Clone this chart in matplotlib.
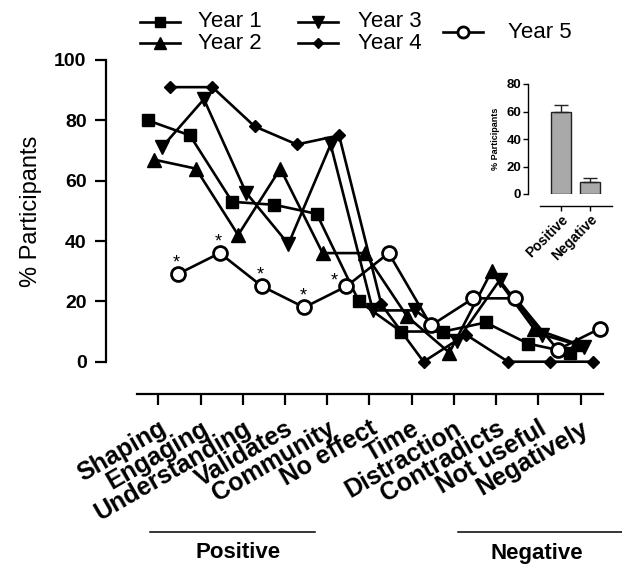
import matplotlib
matplotlib.use("Agg")
import matplotlib.pyplot as plt
from matplotlib.lines import Line2D
import numpy as np

plt.rcParams['font.family'] = ['Liberation Sans', 'DejaVu Sans']

# ---------------- data ----------------
categories = ["Shaping", "Engaging", "Understanding", "Validates", "Community",
              "No effect", "Time", "Distraction", "Contradicts", "Not useful", "Negatively"]
year1 = [80, 75, 53, 52, 49, 20, 10, 10, 13, 6, 3]
year2 = [67, 64, 42, 64, 36, 36, 15, 3, 30, 11, 6]
year3 = [71, 87, 56, 39, 72, 17, 17, 7, 27, 9, 5]
year4 = [91, 91, 78, 72, 75, 19, 0, 9, 0, 0, 0]
year5 = [29, 36, 25, 18, 25, 36, 12, 21, 21, 4, 11]
series_names = ["Year 1", "Year 2", "Year 3", "Year 4", "Year 5"]
starred = ["Shaping", "Engaging", "Understanding", "Validates", "Community"]

yticks = [0, 20, 40, 60, 80, 100]

inset_groups = ["Positive", "Negative"]
inset_means = [60, 9]
inset_err = [5, 2.5]
inset_yticks = [0, 20, 40, 60, 80]

# ---------------- styles ----------------
W, H = 622, 569
fig = plt.figure(figsize=(W / 100, H / 100), dpi=100)
fig.patch.set_facecolor("white")

def fx(x):
    return x / W

def fy(y):
    return 1 - y / H

styles = [
    dict(marker="s", ms=9, mfc="black", mec="black"),
    dict(marker="^", ms=10, mfc="black", mec="black"),
    dict(marker="v", ms=10, mfc="black", mec="black"),
    dict(marker="D", ms=6, mfc="black", mec="black"),
    dict(marker="o", ms=10, mfc="white", mec="black", mew=2),
]
offsets = [-0.25, -0.11, 0.08, 0.28, 0.455]

ax = fig.add_axes([fx(106), fy(361.7), fx(603.3) - fx(106), fy(60) - fy(361.7)])
for s in ["top", "right"]:
    ax.spines[s].set_visible(False)
ax.spines["bottom"].set_position(("outward", 23.3))
ax.spines["left"].set_linewidth(1.6)
ax.spines["bottom"].set_linewidth(1.6)
ax.tick_params(axis="both", width=1.6, length=8, color="black")
ax.tick_params(axis="x", pad=8)
ax.tick_params(axis="y", pad=6)

x = np.arange(len(categories))
all_series = [year1, year2, year3, year4, year5]
for i, (vals, st, off) in enumerate(zip(all_series, styles, offsets)):
    ax.plot(x + off, vals, color="black", lw=1.9, clip_on=False, zorder=3 + i, **st)

# asterisks above Year 5
for cat in starred:
    i = categories.index(cat)
    dx, dy = (-1, 2) if cat != "Community" else (-9, -2)
    ax.annotate("*", (i + offsets[4], year5[i]), xytext=(dx, dy), textcoords="offset points",
                ha="center", va="bottom", fontsize=13, zorder=10)

ax.set_ylim(0, 100)
ax.set_xlim(-1.238, 10.535)
ax.spines["left"].set_bounds(0, 100)
ax.spines["bottom"].set_bounds(-0.511, 10.535)
ax.set_yticks(yticks)
ax.set_yticklabels([str(v) for v in yticks])
ax.set_xticks(x)
ax.set_xticklabels(categories)
plt.setp(ax.get_yticklabels(), fontsize=14, fontweight="bold")
plt.setp(ax.get_xticklabels(), fontsize=18, fontweight="bold", rotation=30,
         ha="right", va="top", rotation_mode="anchor")
ax.set_ylabel("% Participants", fontsize=17, labelpad=9)
ax.patch.set_alpha(0)

# ---------------- legend (manual) ----------------
leg_cols = [(160, 198), (160, 198), (318, 358), (318, 358), (463, 508)]
leg_rows = [21.7, 43.3, 21.7, 43.3, 32.3]
for name, st, (mx, tx), ry in zip(series_names, styles, leg_cols, leg_rows):
    fig.add_artist(Line2D([fx(mx - 20), fx(mx + 20)], [fy(ry), fy(ry)], color="black",
                          lw=1.9, transform=fig.transFigure))
    st2 = dict(st)
    st2["ms"] = st["ms"] * 0.8
    fig.add_artist(Line2D([fx(mx)], [fy(ry)], color="black", lw=0, transform=fig.transFigure, **st2))
    fig.text(fx(tx), fy(ry), name, fontsize=16, va="center", ha="left")

# ---------------- group brackets ----------------
fig.add_artist(Line2D([fx(150), fx(315)], [fy(531.7), fy(531.7)], color="black", lw=1.1,
                      transform=fig.transFigure))
fig.text(fx(238), fy(553), "Positive", fontsize=16, fontweight="bold", ha="center", va="center")
fig.add_artist(Line2D([fx(458), fx(622)], [fy(531.7), fy(531.7)], color="black", lw=1.1,
                      transform=fig.transFigure))
fig.text(fx(537), fy(553), "Negative", fontsize=16, fontweight="bold", ha="center", va="center")

# ---------------- inset ----------------
axin = fig.add_axes([fx(528.3), fy(194), fx(611.7) - fx(528.3), fy(84) - fy(194)])
for s in ["top", "right"]:
    axin.spines[s].set_visible(False)
axin.spines["bottom"].set_position(("outward", 8.4))
axin.spines["left"].set_linewidth(1.0)
axin.spines["bottom"].set_linewidth(1.0)
axin.tick_params(axis="both", width=1.0, length=3.5, pad=1.5)
xi = np.arange(len(inset_groups))
axin.bar(xi, inset_means, width=0.68, color="#a9a9a9", edgecolor="#222222", linewidth=1.0,
         yerr=[[0] * len(inset_err), inset_err], capsize=5,
         error_kw=dict(elinewidth=1.0, capthick=1.0, ecolor="#222222"))
axin.set_ylim(0, 80)
axin.set_xlim(-1.10, 1.725)
axin.spines["left"].set_bounds(0, 80)
axin.spines["bottom"].set_bounds(-0.705, 1.725)
axin.set_yticks(inset_yticks)
axin.set_yticklabels([str(v) for v in inset_yticks])
axin.set_xticks(xi)
axin.set_xticklabels(inset_groups)
plt.setp(axin.get_yticklabels(), fontsize=9.5, fontweight="bold")
plt.setp(axin.get_xticklabels(), fontsize=10, fontweight="bold", rotation=45,
         ha="right", va="top", rotation_mode="anchor")
axin.set_ylabel("% Participants", fontsize=6.5, fontweight="bold", labelpad=5)
axin.patch.set_alpha(0)

fig.savefig("out.png", dpi=100, facecolor="white")
